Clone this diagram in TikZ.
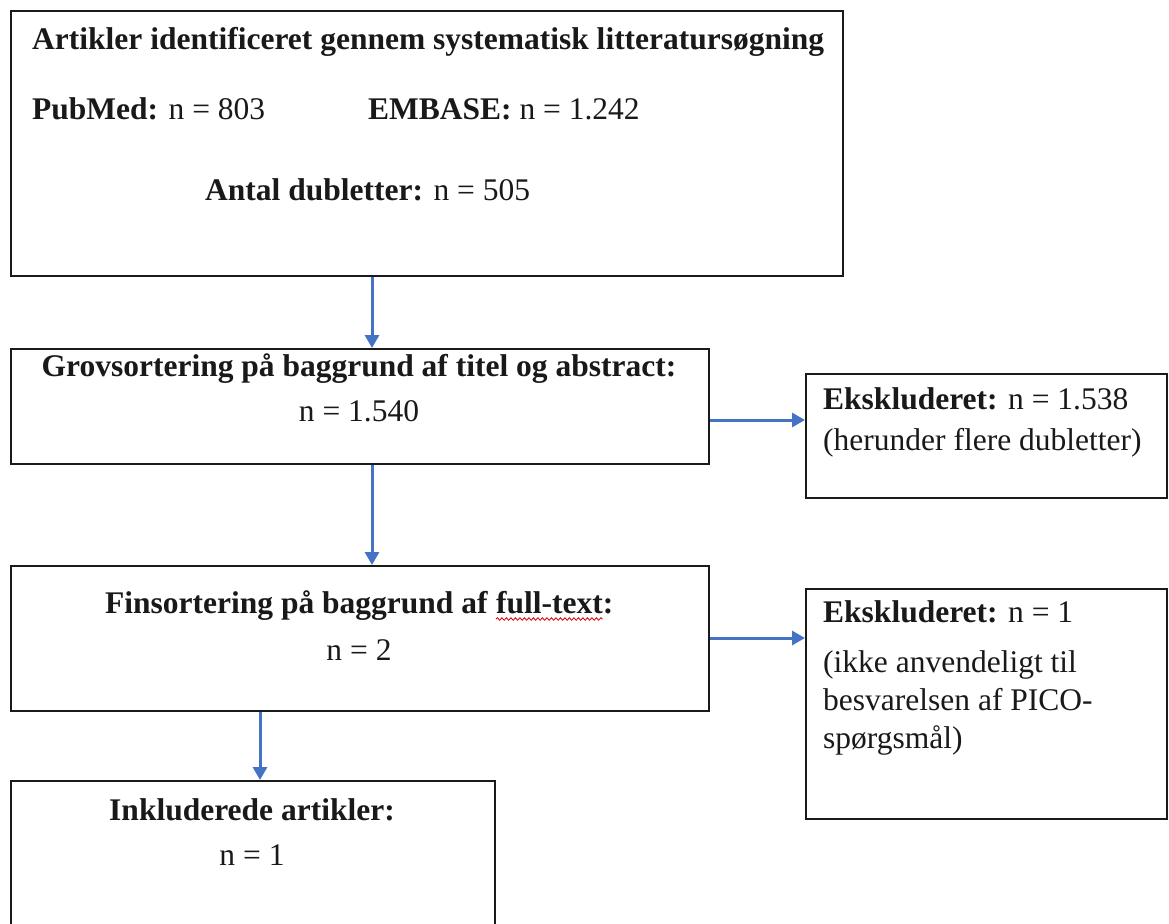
\documentclass[tikz,border=0pt]{standalone}
\usepackage{fontspec}
\setmainfont{Liberation Serif}
\usetikzlibrary{arrows.meta,calc,decorations.pathmorphing}
\definecolor{arrblue}{HTML}{4472C4}
\definecolor{boxline}{HTML}{1A1A1A}
\begin{document}
\begin{tikzpicture}[x=1pt,y=-1pt,
  box/.style={draw=boxline,line width=2pt,rectangle,inner sep=0pt,anchor=north west},
  txt/.style={inner sep=0pt,font=\fontsize{31.5}{38}\selectfont,text=black!90},
  arr/.style={draw=arrblue,line width=3pt,-{Triangle[length=13pt,width=14pt]}},
  wavy/.style={draw=red!85!black,line width=0.8pt,decorate,decoration={snake,amplitude=1.3pt,segment length=4.5pt}}]
\clip (0,0) rectangle (1169,923);
\fill[white] (0,0) rectangle (1169,923);
\useasboundingbox (0,0) rectangle (1169,923);
% boxes
\node[box,minimum width=832pt,minimum height=265pt] (b1) at (10,10) {};
\node[box,minimum width=698pt,minimum height=115pt] (b2) at (10,348) {};
\node[box,minimum width=361pt,minimum height=124pt] (b3) at (805,373) {};
\node[box,minimum width=698pt,minimum height=145pt] (b4) at (10,565) {};
\node[box,minimum width=361pt,minimum height=230pt] (b5) at (805,588) {};
\node[box,minimum width=484pt,minimum height=200pt] (b6) at (10,780) {};
% box 1
\node[txt,anchor=base west] (t1) at (32,50) {\textbf{Artikler identificeret gennem systematisk litteratursøgning}};
\node[txt,anchor=base west] (t2) at (32,120) {\textbf{PubMed:} n = 803};
\node[txt,anchor=base west] (t3) at (368,120) {\textbf{EMBASE:} n = 1.242};
\node[txt,anchor=base west] (t4) at (205,200) {\textbf{Antal dubletter:} n = 505};
% box 2
\node[txt,anchor=base] (t5) at (359,376) {\textbf{Grovsortering på baggrund af titel og abstract:}};
\node[txt,anchor=base] (t6) at (359,421) {n = 1.540};
% box 3
\node[txt,anchor=base west] (t7) at (823,409) {\textbf{Ekskluderet:} n = 1.538};
\node[txt,anchor=base west] (t8) at (823,450) {(herunder flere dubletter)};
% box 4
\node[txt,anchor=base west] (t9) at (105,613) {\textbf{Finsortering på baggrund af}\ \null};
\node[txt,anchor=base west] (t10) at (t9.base east) {\textbf{full-text:}};
\draw[wavy] ($(t10.base west)+(0,6)$) -- ($(t10.base east)+(-11,6)$);
\node[txt,anchor=base] (t11) at (359,660) {n = 2};
% box 5
\node[txt,anchor=base west] (t12) at (823,622) {\textbf{Ekskluderet:} n = 1};
\node[txt,anchor=base west] (t13) at (823,672) {(ikke anvendeligt til};
\node[txt,anchor=base west] (t14) at (823,710) {besvarelsen af PICO-};
\node[txt,anchor=base west] (t15) at (823,748) {spørgsmål)};
% box 6
\node[txt,anchor=base] (t16) at (252,820) {\textbf{Inkluderede artikler:}};
\node[txt,anchor=base] (t17) at (252,865) {n = 1};
% arrows
\draw[arr] ($(b1.south west)+(362,0)$) -- ($(b2.north west)+(362,0)$);
\draw[arr] ($(b2.south west)+(362,0)$) -- ($(b4.north west)+(362,0)$);
\draw[arr] ($(b4.south west)+(250,0)$) -- ($(b6.north west)+(250,0)$);
\draw[arr] ($(b2.north east)+(0,72)$) -- ($(b3.north west)+(0,47)$);
\draw[arr] ($(b4.north east)+(0,73)$) -- ($(b5.north west)+(0,50)$);
\end{tikzpicture}
\end{document}
